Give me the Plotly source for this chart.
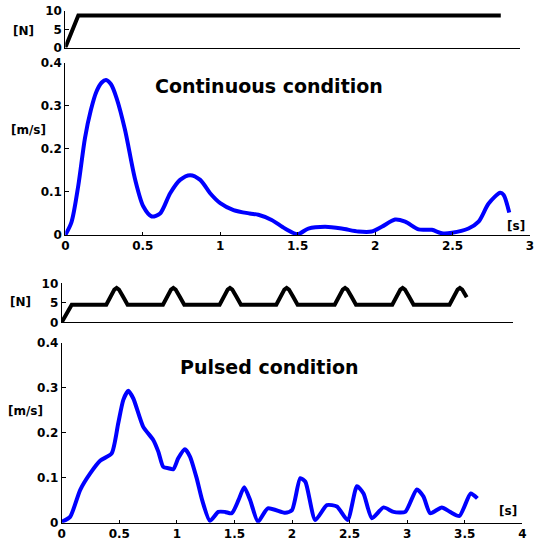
import plotly.graph_objects as go

# ---- Continuous condition ----
force1_t = [0, 0.084, 2.81]
force1_n = [0, 8.8, 8.8]

vel1_t = [0, 0.04, 0.084, 0.127, 0.165, 0.2, 0.235, 0.263, 0.295, 0.331, 0.385, 0.45,
          0.504, 0.558, 0.612,
          0.677, 0.741, 0.806, 0.871, 0.935, 1.0, 1.086, 1.19, 1.246, 1.332, 1.418,
          1.5, 1.569, 1.677, 1.784, 1.892, 1.978, 2.043, 2.129, 2.194, 2.28, 2.366,
          2.431, 2.496, 2.603, 2.668, 2.733, 2.808, 2.83, 2.866]
vel1_v = [0.0, 0.03, 0.115, 0.225, 0.29, 0.332, 0.354, 0.360, 0.350, 0.318, 0.245, 0.13,
          0.066, 0.043, 0.050,
          0.097, 0.128, 0.139, 0.128, 0.097, 0.074, 0.058, 0.050, 0.047, 0.035, 0.015,
          0.002, 0.015, 0.019, 0.015, 0.008, 0.008, 0.019, 0.036, 0.031, 0.013, 0.012,
          0.004, 0.005, 0.015, 0.031, 0.073, 0.098, 0.093, 0.052]

# ---- Pulsed condition ----
force2_t = [0, 0.087,
            0.387, 0.427, 0.457, 0.477, 0.497, 0.532, 0.572,
            0.879, 0.919, 0.949, 0.969, 0.989, 1.024, 1.064,
            1.371, 1.411, 1.441, 1.461, 1.481, 1.516, 1.556,
            1.863, 1.903, 1.933, 1.953, 1.973, 2.008, 2.048,
            2.370, 2.410, 2.440, 2.460, 2.480, 2.515, 2.555,
            2.870, 2.910, 2.940, 2.960, 2.980, 3.015, 3.055,
            3.367, 3.407, 3.437, 3.457, 3.477, 3.516]
force2_n = [0, 4.5,
            4.5, 6.8, 8.4, 8.8, 8.4, 6.6, 4.5,
            4.5, 6.8, 8.4, 8.8, 8.4, 6.6, 4.5,
            4.5, 6.8, 8.4, 8.8, 8.4, 6.6, 4.5,
            4.5, 6.8, 8.4, 8.8, 8.4, 6.6, 4.5,
            4.5, 6.8, 8.4, 8.8, 8.4, 6.6, 4.5,
            4.5, 6.8, 8.4, 8.8, 8.4, 6.6, 4.5,
            4.5, 6.8, 8.4, 8.8, 8.4, 6.4]

vel2_t = [0, 0.073, 0.161, 0.249, 0.336, 0.434, 0.491, 0.535, 0.578, 0.622, 0.708,
          0.795, 0.839, 0.882, 0.926, 0.97, 1.012, 1.07, 1.114, 1.172, 1.22, 1.287, 1.36,
          1.418, 1.477, 1.535, 1.585, 1.637, 1.705, 1.790, 1.942, 2.0, 2.072, 2.116,
          2.202, 2.303, 2.39, 2.483, 2.564, 2.621, 2.694, 2.795, 2.882, 2.983, 3.084,
          3.142, 3.2, 3.301, 3.373, 3.454, 3.552, 3.61]
vel2_v = [0.002, 0.013, 0.073, 0.110, 0.138, 0.154, 0.221, 0.273, 0.293, 0.276, 0.213,
          0.184, 0.158, 0.124, 0.121, 0.119, 0.143, 0.163, 0.147, 0.099, 0.050, 0.004, 0.024,
          0.024, 0.021, 0.050, 0.079, 0.050, 0.002, 0.032, 0.022, 0.028, 0.099, 0.091,
          0.006, 0.039, 0.036, 0.006, 0.081, 0.065, 0.010, 0.034, 0.024, 0.024, 0.074,
          0.058, 0.021, 0.034, 0.024, 0.015, 0.065, 0.054]

vel_ticks1 = [0, 0.5, 1, 1.5, 2, 2.5, 3]
vel_ticks2 = [0, 0.5, 1, 1.5, 2, 2.5, 3, 3.5, 4]
vel_yticks = [0, 0.1, 0.2, 0.3, 0.4]
vel_ylabels = ["0", "0.1", "0.2", "0.3", "0.4"]
force_yticks = [0, 5, 10]

W, H = 535, 544
def px(x):
    return x / W
def py(y):
    return 1 - y / H

TICKFONT = dict(family="DejaVu Sans", size=12, color="black", weight="bold")
AX = dict(showline=True, linecolor="black", linewidth=1, showgrid=False, zeroline=False,
          ticks="inside", ticklen=4, tickcolor="black", tickfont=TICKFONT,
          automargin=False)

fig = go.Figure()
fig.add_trace(go.Scatter(x=force1_t, y=force1_n, xaxis="x", yaxis="y", mode="lines",
                         line=dict(color="black", width=4), showlegend=False))
fig.add_trace(go.Scatter(x=vel1_t, y=vel1_v, xaxis="x2", yaxis="y2", mode="lines",
                         line=dict(color="#0000FF", width=4, shape="spline", smoothing=0.8),
                         showlegend=False))
fig.add_trace(go.Scatter(x=force2_t, y=force2_n, xaxis="x3", yaxis="y3", mode="lines",
                         line=dict(color="black", width=4), showlegend=False))
fig.add_trace(go.Scatter(x=vel2_t, y=vel2_v, xaxis="x4", yaxis="y4", mode="lines",
                         line=dict(color="#0000FF", width=4, shape="spline", smoothing=0.6),
                         showlegend=False))

fig.update_layout(
    template="none",
    width=W, height=H, autosize=False,
    margin=dict(l=0, r=0, t=0, b=0, pad=0, autoexpand=False),
    paper_bgcolor="white", plot_bgcolor="white",
    xaxis=dict(AX, domain=[px(65.3), px(520)], range=[0, 2.934], anchor="y",
               ticks="", showticklabels=False),
    yaxis=dict(AX, domain=[py(47.6), py(11)], range=[0, 10], anchor="x",
               tickvals=force_yticks),
    xaxis2=dict(AX, domain=[px(65.3), px(530)], range=[0, 3], anchor="y2",
                tickvals=vel_ticks1, ticklen=3),
    yaxis2=dict(AX, domain=[py(235), py(62.7)], range=[0, 0.4], anchor="x2",
                tickvals=vel_yticks, ticktext=vel_ylabels),
    xaxis3=dict(AX, domain=[px(61.7), px(513)], range=[0, 3.918], anchor="y3",
                ticks="", showticklabels=False),
    yaxis3=dict(AX, domain=[py(322.3), py(283.3)], range=[0, 10], anchor="x3",
                tickvals=force_yticks),
    xaxis4=dict(AX, domain=[px(61.7), px(522.3)], range=[0, 4], anchor="y4",
                tickvals=vel_ticks2, ticklen=3),
    yaxis4=dict(AX, domain=[py(522.7), py(342.7)], range=[0, 0.4], anchor="x4",
                tickvals=vel_yticks, ticktext=vel_ylabels),
)

LBL = dict(family="DejaVu Sans", size=12, color="black", weight="bold")
TTL = dict(family="DejaVu Sans", size=19, color="black", weight="bold")
notes = [
    ("[N]", 23, 31, LBL),
    ("[m/s]", 28, 130, LBL),
    ("[s]", 516, 226, LBL),
    ("Continuous condition", 269, 86, TTL),
    ("[N]", 20, 302, LBL),
    ("[m/s]", 25, 411, LBL),
    ("[s]", 508, 511, LBL),
    ("Pulsed condition", 270, 367, TTL),
]
for text, x, y, f in notes:
    fig.add_annotation(text=text, x=px(x), y=py(y), xref="paper", yref="paper",
                       xanchor="center", yanchor="middle", showarrow=False, font=f)

fig.write_html("out.html")
